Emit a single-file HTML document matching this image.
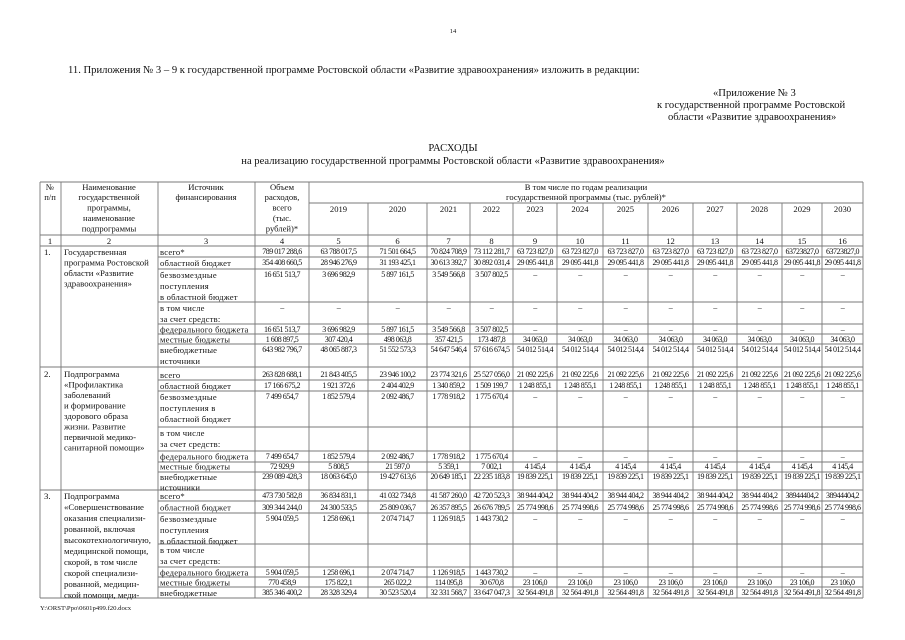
<!DOCTYPE html>
<html><head><meta charset="utf-8"><style>
html,body{margin:0;padding:0;background:#fff;}
svg{display:block;font-family:"Liberation Serif",serif;}
.n text{font-size:8px;letter-spacing:-0.5px;text-anchor:middle;}
</style></head><body>
<svg width="905" height="640" viewBox="0 0 905 640" xmlns="http://www.w3.org/2000/svg">
<g font-size="10.6" fill="#111">
<text x="453" y="33" font-size="6.5" text-anchor="middle">14</text>
<text x="68" y="73">11. Приложения № 3 – 9 к государственной программе Ростовской области «Развитие здравоохранения» изложить в редакции:</text>
<text x="713" y="96">«Приложение № 3</text>
<text x="657" y="108">к государственной программе Ростовской</text>
<text x="668" y="120">области «Развитие здравоохранения»</text>
<text x="453" y="151" text-anchor="middle">РАСХОДЫ</text>
<text x="453" y="164" text-anchor="middle">на реализацию государственной программы Ростовской области «Развитие здравоохранения»</text>
<text x="40" y="610" font-size="6.7">Y:\ORST\Ppo\0601p499.f20.docx</text>
</g>
<g stroke="#7a7a7a" stroke-width="0.9" fill="none">
<line x1="40" y1="182" x2="863" y2="182"/>
<line x1="309" y1="203" x2="863" y2="203"/>
<line x1="40" y1="235" x2="863" y2="235"/>
<line x1="40" y1="246" x2="863" y2="246"/>
<line x1="40" y1="367" x2="863" y2="367"/>
<line x1="40" y1="598" x2="863" y2="598"/>
<path d="M40 182V598M61 182V598M158 182V598M255 182V598M309 182V598M863 182V598"/>
<path d="M368 203V598M427 203V598M470 203V598M513 203V598M557 203V598M603 203V598M648 203V598M693 203V598M737 203V598M782 203V598M822 203V598"/>
<path d="M158 257H863M158 269H863M158 302H863M158 324H863M158 334H863M158 344H863"/>
<path d="M158 380H863M158 391H863M158 427H863M158 451H863M158 462H863M158 472H863"/>
<path d="M40 490H863M158 501H863M158 513H863M158 544H863M158 567H863M158 577H863M158 587H863"/>
</g>
<g font-size="8.6" fill="#111" text-anchor="middle">
<text x="50" y="190">№</text><text x="50" y="200">п/п</text>
<text x="109" y="190">Наименование</text><text x="109" y="200">государственной</text><text x="109" y="210.5">программы,</text><text x="109" y="221">наименование</text><text x="109" y="231.5">подпрограммы</text>
<text x="206" y="190">Источник</text><text x="206" y="200">финансирования</text>
<text x="282" y="190">Объем</text><text x="282" y="200">расходов,</text><text x="282" y="210.5">всего</text><text x="282" y="221">(тыс.</text><text x="282" y="231.5">рублей)*</text>
<text x="586" y="190">В том числе по годам реализации</text><text x="586" y="200">государственной программы (тыс. рублей)*</text>
<text x="338.5" y="212">2019</text><text x="397.5" y="212">2020</text><text x="448.5" y="212">2021</text><text x="491.5" y="212">2022</text><text x="535" y="212">2023</text><text x="580" y="212">2024</text><text x="625.5" y="212">2025</text><text x="670.5" y="212">2026</text><text x="715" y="212">2027</text><text x="759.5" y="212">2028</text><text x="802" y="212">2029</text><text x="842.5" y="212">2030</text>
<text x="50" y="244">1</text><text x="109" y="244">2</text><text x="206" y="244">3</text><text x="282" y="244">4</text><text x="338.5" y="244">5</text><text x="397.5" y="244">6</text><text x="448.5" y="244">7</text><text x="491.5" y="244">8</text><text x="535" y="244">9</text><text x="580" y="244">10</text><text x="625.5" y="244">11</text><text x="670.5" y="244">12</text><text x="715" y="244">13</text><text x="759.5" y="244">14</text><text x="802" y="244">15</text><text x="842.5" y="244">16</text>
</g>
<g font-size="8.8" fill="#111">
<text x="44" y="255">1.</text>
<text x="64" y="255">Государственная</text><text x="64" y="265.5">программа Ростовской</text><text x="64" y="276">области «Развитие</text><text x="64" y="286.5">здравоохранения»</text>
<text x="44" y="377">2.</text>
<text x="64" y="377">Подпрограмма</text><text x="64" y="387.5">«Профилактика</text><text x="64" y="398">заболеваний</text><text x="64" y="408.5">и формирование</text><text x="64" y="419">здорового образа</text><text x="64" y="429.5">жизни. Развитие</text><text x="64" y="440">первичной медико-</text><text x="64" y="450.5">санитарной помощи»</text>
<text x="44" y="499">3.</text>
<text x="64" y="499">Подпрограмма</text><text x="64" y="510">«Совершенствование</text><text x="64" y="521">оказания специализи-</text><text x="64" y="532">рованной, включая</text><text x="64" y="543">высокотехнологичную,</text><text x="64" y="554">медицинской помощи,</text><text x="64" y="565">скорой, в том числе</text><text x="64" y="576">скорой специализи-</text><text x="64" y="587">рованной, медицин-</text><text x="64" y="598">ской помощи, меди-</text>
</g>
<g font-size="8.6" fill="#111" letter-spacing="0.2">
<text x="160" y="255">всего*</text><text x="160" y="266">областной бюджет</text><text x="160" y="278">безвозмездные</text><text x="160" y="289">поступления</text><text x="160" y="300">в областной бюджет</text><text x="160" y="311">в том числе</text><text x="160" y="322">за счет средств:</text><text x="160" y="332.5">федерального бюджета</text><text x="160" y="342.5">местные бюджеты</text><text x="160" y="353">внебюджетные</text><text x="160" y="364">источники</text>
<text x="160" y="378">всего</text><text x="160" y="389">областной бюджет</text><text x="160" y="400">безвозмездные</text><text x="160" y="411">поступления в</text><text x="160" y="422">областной бюджет</text><text x="160" y="436">в том числе</text><text x="160" y="447">за счет средств:</text><text x="160" y="459.5">федерального бюджета</text><text x="160" y="469.5">местные бюджеты</text><text x="160" y="480">внебюджетные</text><text x="160" y="490.5">источники</text>
<text x="160" y="499">всего*</text><text x="160" y="510.5">областной бюджет</text><text x="160" y="522">безвозмездные</text><text x="160" y="533">поступления</text><text x="160" y="544">в областной бюджет</text><text x="160" y="553">в том числе</text><text x="160" y="564">за счет средств:</text><text x="160" y="575.5">федерального бюджета</text><text x="160" y="585.5">местные бюджеты</text><text x="160" y="596">внебюджетные</text>
</g>
<g class="n" fill="#111">
<text x="282" y="254">789 017 288,6</text><text x="338.5" y="254">63 788 017,5</text><text x="397.5" y="254">71 501 664,5</text><text x="448.5" y="254">70 824 708,9</text><text x="491.5" y="254">73 112 281,7</text><text x="535" y="254">63 723 827,0</text><text x="580" y="254">63 723 827,0</text><text x="625.5" y="254">63 723 827,0</text><text x="670.5" y="254">63 723 827,0</text><text x="715" y="254">63 723 827,0</text><text x="759.5" y="254">63 723 827,0</text><text x="802" y="254">63723827,0</text><text x="842.5" y="254">63723827,0</text>
<text x="282" y="265">354 408 660,5</text><text x="338.5" y="265">28 946 276,9</text><text x="397.5" y="265">31 193 425,1</text><text x="448.5" y="265">30 613 392,7</text><text x="491.5" y="265">30 892 031,4</text><text x="535" y="265">29 095 441,8</text><text x="580" y="265">29 095 441,8</text><text x="625.5" y="265">29 095 441,8</text><text x="670.5" y="265">29 095 441,8</text><text x="715" y="265">29 095 441,8</text><text x="759.5" y="265">29 095 441,8</text><text x="802" y="265">29 095 441,8</text><text x="842.5" y="265">29 095 441,8</text>
<text x="282" y="277">16 651 513,7</text><text x="338.5" y="277">3 696 982,9</text><text x="397.5" y="277">5 897 161,5</text><text x="448.5" y="277">3 549 566,8</text><text x="491.5" y="277">3 507 802,5</text><text x="535" y="277">–</text><text x="580" y="277">–</text><text x="625.5" y="277">–</text><text x="670.5" y="277">–</text><text x="715" y="277">–</text><text x="759.5" y="277">–</text><text x="802" y="277">–</text><text x="842.5" y="277">–</text>
<text x="282" y="310">–</text><text x="338.5" y="310">–</text><text x="397.5" y="310">–</text><text x="448.5" y="310">–</text><text x="491.5" y="310">–</text><text x="535" y="310">–</text><text x="580" y="310">–</text><text x="625.5" y="310">–</text><text x="670.5" y="310">–</text><text x="715" y="310">–</text><text x="759.5" y="310">–</text><text x="802" y="310">–</text><text x="842.5" y="310">–</text>
<text x="282" y="332">16 651 513,7</text><text x="338.5" y="332">3 696 982,9</text><text x="397.5" y="332">5 897 161,5</text><text x="448.5" y="332">3 549 566,8</text><text x="491.5" y="332">3 507 802,5</text><text x="535" y="332">–</text><text x="580" y="332">–</text><text x="625.5" y="332">–</text><text x="670.5" y="332">–</text><text x="715" y="332">–</text><text x="759.5" y="332">–</text><text x="802" y="332">–</text><text x="842.5" y="332">–</text>
<text x="282" y="342">1 608 897,5</text><text x="338.5" y="342">307 420,4</text><text x="397.5" y="342">498 063,8</text><text x="448.5" y="342">357 421,5</text><text x="491.5" y="342">173 487,8</text><text x="535" y="342">34 063,0</text><text x="580" y="342">34 063,0</text><text x="625.5" y="342">34 063,0</text><text x="670.5" y="342">34 063,0</text><text x="715" y="342">34 063,0</text><text x="759.5" y="342">34 063,0</text><text x="802" y="342">34 063,0</text><text x="842.5" y="342">34 063,0</text>
<text x="282" y="352">643 982 796,7</text><text x="338.5" y="352">48 065 887,3</text><text x="397.5" y="352">51 552 573,3</text><text x="448.5" y="352">54 647 546,4</text><text x="491.5" y="352">57 616 674,5</text><text x="535" y="352">54 012 514,4</text><text x="580" y="352">54 012 514,4</text><text x="625.5" y="352">54 012 514,4</text><text x="670.5" y="352">54 012 514,4</text><text x="715" y="352">54 012 514,4</text><text x="759.5" y="352">54 012 514,4</text><text x="802" y="352">54 012 514,4</text><text x="842.5" y="352">54 012 514,4</text>
</g>
<g class="n" fill="#111">
<text x="282" y="377">263 828 688,1</text><text x="338.5" y="377">21 843 405,5</text><text x="397.5" y="377">23 946 100,2</text><text x="448.5" y="377">23 774 321,6</text><text x="491.5" y="377">25 527 056,0</text><text x="535" y="377">21 092 225,6</text><text x="580" y="377">21 092 225,6</text><text x="625.5" y="377">21 092 225,6</text><text x="670.5" y="377">21 092 225,6</text><text x="715" y="377">21 092 225,6</text><text x="759.5" y="377">21 092 225,6</text><text x="802" y="377">21 092 225,6</text><text x="842.5" y="377">21 092 225,6</text>
<text x="282" y="388">17 166 675,2</text><text x="338.5" y="388">1 921 372,6</text><text x="397.5" y="388">2 404 402,9</text><text x="448.5" y="388">1 340 859,2</text><text x="491.5" y="388">1 509 199,7</text><text x="535" y="388">1 248 855,1</text><text x="580" y="388">1 248 855,1</text><text x="625.5" y="388">1 248 855,1</text><text x="670.5" y="388">1 248 855,1</text><text x="715" y="388">1 248 855,1</text><text x="759.5" y="388">1 248 855,1</text><text x="802" y="388">1 248 855,1</text><text x="842.5" y="388">1 248 855,1</text>
<text x="282" y="399">7 499 654,7</text><text x="338.5" y="399">1 852 579,4</text><text x="397.5" y="399">2 092 486,7</text><text x="448.5" y="399">1 778 918,2</text><text x="491.5" y="399">1 775 670,4</text><text x="535" y="399">–</text><text x="580" y="399">–</text><text x="625.5" y="399">–</text><text x="670.5" y="399">–</text><text x="715" y="399">–</text><text x="759.5" y="399">–</text><text x="802" y="399">–</text><text x="842.5" y="399">–</text>
<text x="282" y="459">7 499 654,7</text><text x="338.5" y="459">1 852 579,4</text><text x="397.5" y="459">2 092 486,7</text><text x="448.5" y="459">1 778 918,2</text><text x="491.5" y="459">1 775 670,4</text><text x="535" y="459">–</text><text x="580" y="459">–</text><text x="625.5" y="459">–</text><text x="670.5" y="459">–</text><text x="715" y="459">–</text><text x="759.5" y="459">–</text><text x="802" y="459">–</text><text x="842.5" y="459">–</text>
<text x="282" y="469">72 929,9</text><text x="338.5" y="469">5 808,5</text><text x="397.5" y="469">21 597,0</text><text x="448.5" y="469">5 359,1</text><text x="491.5" y="469">7 002,1</text><text x="535" y="469">4 145,4</text><text x="580" y="469">4 145,4</text><text x="625.5" y="469">4 145,4</text><text x="670.5" y="469">4 145,4</text><text x="715" y="469">4 145,4</text><text x="759.5" y="469">4 145,4</text><text x="802" y="469">4 145,4</text><text x="842.5" y="469">4 145,4</text>
<text x="282" y="479">239 089 428,3</text><text x="338.5" y="479">18 063 645,0</text><text x="397.5" y="479">19 427 613,6</text><text x="448.5" y="479">20 649 185,1</text><text x="491.5" y="479">22 235 183,8</text><text x="535" y="479">19 839 225,1</text><text x="580" y="479">19 839 225,1</text><text x="625.5" y="479">19 839 225,1</text><text x="670.5" y="479">19 839 225,1</text><text x="715" y="479">19 839 225,1</text><text x="759.5" y="479">19 839 225,1</text><text x="802" y="479">19 839 225,1</text><text x="842.5" y="479">19 839 225,1</text>
</g>
<g class="n" fill="#111">
<text x="282" y="498">473 730 582,8</text><text x="338.5" y="498">36 834 831,1</text><text x="397.5" y="498">41 032 734,8</text><text x="448.5" y="498">41 587 260,0</text><text x="491.5" y="498">42 720 523,3</text><text x="535" y="498">38 944 404,2</text><text x="580" y="498">38 944 404,2</text><text x="625.5" y="498">38 944 404,2</text><text x="670.5" y="498">38 944 404,2</text><text x="715" y="498">38 944 404,2</text><text x="759.5" y="498">38 944 404,2</text><text x="802" y="498">38944404,2</text><text x="842.5" y="498">38944404,2</text>
<text x="282" y="510">309 344 244,0</text><text x="338.5" y="510">24 300 533,5</text><text x="397.5" y="510">25 809 036,7</text><text x="448.5" y="510">26 357 895,5</text><text x="491.5" y="510">26 676 789,5</text><text x="535" y="510">25 774 998,6</text><text x="580" y="510">25 774 998,6</text><text x="625.5" y="510">25 774 998,6</text><text x="670.5" y="510">25 774 998,6</text><text x="715" y="510">25 774 998,6</text><text x="759.5" y="510">25 774 998,6</text><text x="802" y="510">25 774 998,6</text><text x="842.5" y="510">25 774 998,6</text>
<text x="282" y="521">5 904 059,5</text><text x="338.5" y="521">1 258 696,1</text><text x="397.5" y="521">2 074 714,7</text><text x="448.5" y="521">1 126 918,5</text><text x="491.5" y="521">1 443 730,2</text><text x="535" y="521">–</text><text x="580" y="521">–</text><text x="625.5" y="521">–</text><text x="670.5" y="521">–</text><text x="715" y="521">–</text><text x="759.5" y="521">–</text><text x="802" y="521">–</text><text x="842.5" y="521">–</text>
<text x="282" y="575">5 904 059,5</text><text x="338.5" y="575">1 258 696,1</text><text x="397.5" y="575">2 074 714,7</text><text x="448.5" y="575">1 126 918,5</text><text x="491.5" y="575">1 443 730,2</text><text x="535" y="575">–</text><text x="580" y="575">–</text><text x="625.5" y="575">–</text><text x="670.5" y="575">–</text><text x="715" y="575">–</text><text x="759.5" y="575">–</text><text x="802" y="575">–</text><text x="842.5" y="575">–</text>
<text x="282" y="585">770 458,9</text><text x="338.5" y="585">175 822,1</text><text x="397.5" y="585">265 022,2</text><text x="448.5" y="585">114 095,8</text><text x="491.5" y="585">30 670,8</text><text x="535" y="585">23 106,0</text><text x="580" y="585">23 106,0</text><text x="625.5" y="585">23 106,0</text><text x="670.5" y="585">23 106,0</text><text x="715" y="585">23 106,0</text><text x="759.5" y="585">23 106,0</text><text x="802" y="585">23 106,0</text><text x="842.5" y="585">23 106,0</text>
<text x="282" y="595">385 346 400,2</text><text x="338.5" y="595">28 328 329,4</text><text x="397.5" y="595">30 523 520,4</text><text x="448.5" y="595">32 331 568,7</text><text x="491.5" y="595">33 647 047,3</text><text x="535" y="595">32 564 491,8</text><text x="580" y="595">32 564 491,8</text><text x="625.5" y="595">32 564 491,8</text><text x="670.5" y="595">32 564 491,8</text><text x="715" y="595">32 564 491,8</text><text x="759.5" y="595">32 564 491,8</text><text x="802" y="595">32 564 491,8</text><text x="842.5" y="595">32 564 491,8</text>
</g>
</svg>
</body></html>
